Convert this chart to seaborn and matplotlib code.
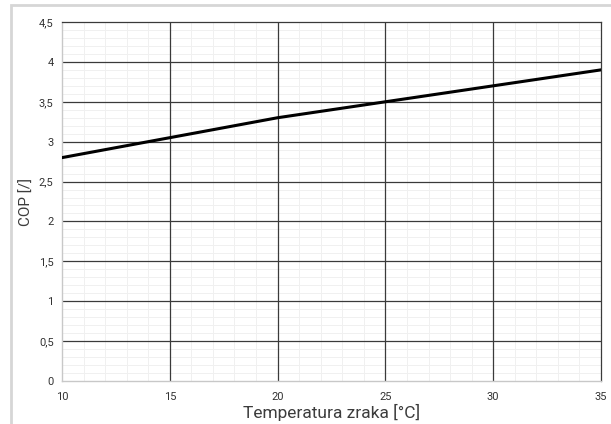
import matplotlib
matplotlib.use('Agg')
import matplotlib.pyplot as plt
import matplotlib.ticker as ticker
from matplotlib.patches import Rectangle
import seaborn as sns
import pandas as pd

#%% Data
temperatura = [10, 15, 20, 25, 30, 35]
cop = [2.8, 3.05, 3.3, 3.5, 3.7, 3.9]
x_ticks = [10, 15, 20, 25, 30, 35]
y_ticks = [0, 0.5, 1, 1.5, 2, 2.5, 3, 3.5, 4, 4.5]

df = pd.DataFrame({'temp': temperatura, 'cop': cop})

#%% Plot
sns.set_style("white")
plt.rcParams['font.family'] = ['Roboto', 'DejaVu Sans']

fig = plt.figure(figsize=(6.11, 4.24), dpi=100)
ax = fig.add_axes([62 / 611, 1 - 381 / 424, (601 - 62) / 611, (381 - 22) / 424])

# light frame around the chart
fig.patches.append(Rectangle((10.5 / 611, -0.1), 1.2, (424 - 5) / 424 + 0.1, transform=fig.transFigure,
                             fill=False, edgecolor='#d6d6d6', linewidth=2, zorder=0))

# minor grid only via ax.grid, major lines drawn on top so they stay solid
ax.xaxis.set_minor_locator(ticker.MultipleLocator(1))
ax.yaxis.set_minor_locator(ticker.MultipleLocator(0.1))
ax.grid(which='minor', color='#f0f0f0', linewidth=0.7, zorder=0)
ax.grid(which='major', visible=False)
for xv in x_ticks[1:-1]:
    ax.axvline(xv, color='#3a3a3a', linewidth=0.9, zorder=2)
for yv in y_ticks[1:-1]:
    ax.axhline(yv, color='#3a3a3a', linewidth=0.9, zorder=2)
ax.set_axisbelow(True)

sns.lineplot(data=df, x='temp', y='cop', color='black', linewidth=2.2, ax=ax, zorder=5)

ax.set_xlim(10, 35)
ax.set_ylim(0, 4.5)
ax.set_xticks(x_ticks)
ax.set_yticks(y_ticks)
ax.yaxis.set_major_formatter(ticker.FuncFormatter(lambda v, _: f'{v:g}'.replace('.', ',')))

for side in ['top', 'right']:
    ax.spines[side].set_color('#3a3a3a')
    ax.spines[side].set_linewidth(0.9)
for side in ['left', 'bottom']:
    ax.spines[side].set_color('#c8c8c8')
    ax.spines[side].set_linewidth(1)

ax.tick_params(which='major', length=3, color='#c8c8c8', labelsize=8, labelcolor='#333333', pad=3)
ax.tick_params(which='minor', length=0)
ax.tick_params(axis='x', pad=5)

ax.set_xlabel('Temperatura zraka [°C]', fontsize=12.5, color='#3c3c3c', labelpad=1)
ax.set_ylabel('COP [/]', fontsize=11, color='#3c3c3c', labelpad=4)

fig.savefig('out.png', dpi=100)
